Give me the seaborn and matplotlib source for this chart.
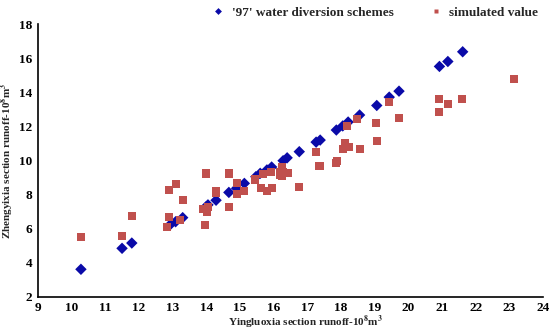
import pandas as pd
import matplotlib
matplotlib.use("Agg")
import matplotlib.pyplot as plt
import seaborn as sns

# '97' water diversion schemes
plan_x = [10.28, 11.5, 11.79, 12.92, 13.09, 13.3, 14.0, 14.05, 14.29, 14.67,
          14.9, 15.13, 15.47, 15.6, 15.8, 15.94, 16.28, 16.4, 16.76, 17.26,
          17.38, 17.86, 18.05, 18.21, 18.55, 19.06, 19.43, 19.72, 20.92, 21.17, 21.61]
plan_y = [3.62, 4.85, 5.16, 6.22, 6.41, 6.65, 7.3, 7.4, 7.67, 8.13,
          8.37, 8.66, 9.05, 9.25, 9.45, 9.62, 9.99, 10.16, 10.52, 11.08,
          11.2, 11.79, 12.03, 12.26, 12.67, 13.23, 13.72, 14.07, 15.52, 15.81, 16.38]

# simulated value
sim_x = [10.28, 11.5, 11.79, 12.84, 12.9, 12.9, 13.09, 13.21, 13.3, 13.91,
         13.95, 13.99, 14.03, 14.05, 14.29, 14.29, 14.67, 14.67, 14.92, 14.9,
         15.11, 15.45, 15.62, 15.79, 15.94, 15.69, 15.91, 16.19, 16.26, 16.28,
         16.19, 16.26, 16.41, 15.94, 16.76, 17.26, 17.36, 17.85, 17.87, 18.05,
         18.12, 18.24, 18.18, 18.47, 18.55, 19.04, 19.08, 19.42, 19.72, 20.92,
         20.92, 21.17, 21.6, 23.13]
sim_y = [5.51, 5.56, 6.77, 6.12, 6.7, 8.27, 8.62, 6.49, 7.7, 7.16,
         6.22, 9.24, 6.96, 7.29, 8.21, 8.08, 9.24, 7.3, 8.66, 8.03,
         8.23, 8.89, 8.39, 8.23, 8.39, 9.2, 9.34, 9.15, 9.64, 9.34,
         9.34, 9.11, 9.28, 8.37, 8.46, 10.5, 9.7, 9.83, 9.97, 10.7,
         11.0, 10.8, 12.04, 12.43, 10.67, 12.2, 11.16, 13.43, 12.5, 13.6,
         12.84, 13.33, 13.6, 14.8]

series_names = ["'97' water diversion schemes", "simulated value"]

df = pd.concat([
    pd.DataFrame({"x": plan_x, "y": plan_y, "series": series_names[0]}),
    pd.DataFrame({"x": sim_x, "y": sim_y, "series": series_names[1]}),
])

sns.set_style("white")
plt.rcParams["font.family"] = ["Liberation Serif", "DejaVu Serif"]
plt.rcParams["font.weight"] = "bold"
plt.rcParams["mathtext.fontset"] = "stix"

fig = plt.figure(figsize=(5.56, 3.31), dpi=100)
ax = fig.add_axes([0.068, 0.103, 0.909, 0.824])

sns.scatterplot(
    data=df, x="x", y="y", hue="series", style="series",
    hue_order=series_names, style_order=series_names,
    palette={series_names[0]: "#0a0aa8", series_names[1]: "#c0504d"},
    markers={series_names[0]: "D", series_names[1]: "s"},
    s=40, edgecolor="none", ax=ax, zorder=3,
)
# diamonds a bit smaller than squares
for coll, sz in zip(ax.collections, [34, 56]):
    coll.set_sizes([sz])

ax.set_xlim(9, 24)
ax.set_ylim(2, 18)
ax.set_xticks(range(9, 25))
ax.set_yticks(range(2, 19, 2))
ax.tick_params(direction="in", length=3, width=1, labelsize=9.5, colors="black", pad=4)
for lab in ax.get_xticklabels() + ax.get_yticklabels():
    lab.set_fontweight("bold")
for side in ["top", "right"]:
    ax.spines[side].set_visible(False)
for side in ["left", "bottom"]:
    ax.spines[side].set_color("black")
    ax.spines[side].set_linewidth(1.2)

ax.set_xlabel(r"Yingluoxia section runoff-10$^8$m$^3$", fontsize=8, fontweight="bold")
ax.set_ylabel(r"Zhengyixia section runoff-10$^8$m$^3$", fontsize=8, fontweight="bold")
ax.xaxis.set_label_coords(0.53, -0.062)
ax.yaxis.set_label_coords(-0.044, 0.5)

handles, labels = ax.get_legend_handles_labels()
ax.legend(handles, labels, loc="lower right", bbox_to_anchor=(1.0, 1.0),
          ncol=2, frameon=False, fontsize=9.5, handletextpad=0.0,
          columnspacing=2.2, markerscale=0.55, borderaxespad=0.0)

fig.savefig("out.png", dpi=100)
